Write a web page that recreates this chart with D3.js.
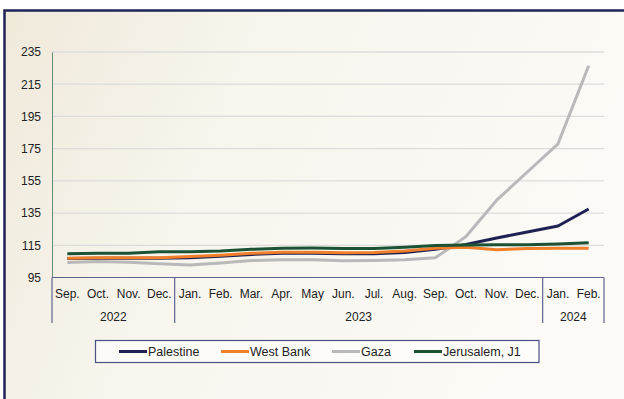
<!DOCTYPE html>
<html>
<head>
<meta charset="utf-8">
<script src="https://cdn.jsdelivr.net/npm/d3@7/dist/d3.min.js"></script>
<style>
  html, body { margin: 0; padding: 0; background: #fff; }
  #chart { width: 624px; height: 399px; }
  text { font-family: Arial, "Liberation Sans", sans-serif; fill: #222; }
</style>
</head>
<body>
<div id="chart"></div>
<script>
const months = ['Sep.', 'Oct.', 'Nov.', 'Dec.', 'Jan.', 'Feb.', 'Mar.', 'Apr.', 'May', 'Jun.',
    'Jul.', 'Aug.', 'Sep.', 'Oct.', 'Nov.', 'Dec.', 'Jan.', 'Feb.'];
const years = [
    { label: '2022', count: 4 },
    { label: '2023', count: 12 },
    { label: '2024', count: 2 }
];
const yTicks = [95, 115, 135, 155, 175, 195, 215, 235];

const palestine = [106.8, 106.9, 107.0, 107.0, 107.3, 108.2, 109.3, 110.0, 110.0, 109.7,
    109.8, 110.5, 112.5, 115.5, 119.5, 123.3, 127.0, 137.5];
const westBank = [107.0, 107.2, 107.2, 107.3, 108.0, 108.8, 110.0, 110.6, 110.6, 110.3,
    110.5, 111.5, 113.2, 113.8, 112.2, 113.0, 113.2, 113.1];
const gaza = [104.3, 105.0, 104.5, 103.6, 102.8, 104.0, 105.5, 106.0, 106.0, 105.4,
    105.6, 106.0, 107.2, 120.5, 143.0, 160.5, 178.0, 226.5];
const jerusalem = [109.7, 110.0, 110.0, 111.0, 111.0, 111.5, 112.5, 113.2, 113.3, 113.0,
    113.0, 113.8, 114.8, 115.2, 115.3, 115.4, 115.8, 116.6];

const series = [
    { name: 'Palestine', color: '#1f2155', values: palestine },
    { name: 'West Bank', color: '#f07f2c', values: westBank },
    { name: 'Gaza', color: '#b9b9b9', values: gaza },
    { name: 'Jerusalem, J1', color: '#1b5234', values: jerusalem }
];

const W = 624, H = 399;
const plot = { left: 52, right: 604, top: 52, bottom: 277.5 };

const svg = d3.select('#chart').append('svg')
    .attr('width', W)
    .attr('height', H);

// background + frame
const defs = svg.append('defs');
const grad = defs.append('linearGradient')
    .attr('id', 'bg')
    .attr('x1', 0).attr('y1', 0).attr('x2', 1).attr('y2', 0.3);
grad.append('stop').attr('offset', '0%').attr('stop-color', '#efe9da');
grad.append('stop').attr('offset', '35%').attr('stop-color', '#f7f5ed');
grad.append('stop').attr('offset', '100%').attr('stop-color', '#fcfbf8');

svg.append('rect')
    .attr('x', 4.5).attr('y', 10.5)
    .attr('width', 700).attr('height', 500)
    .attr('fill', 'url(#bg)')
    .attr('stroke', '#1f2358')
    .attr('stroke-width', 2.5);

const x = d3.scaleBand()
    .domain(d3.range(months.length))
    .range([plot.left, plot.right]);

const y = d3.scaleLinear()
    .domain([95, 235])
    .range([plot.bottom, plot.top]);

// gridlines
svg.append('g')
    .selectAll('line')
    .data(yTicks.slice(1))
    .enter()
    .append('line')
    .attr('x1', plot.left)
    .attr('x2', plot.right)
    .attr('y1', d => y(d))
    .attr('y2', d => y(d))
    .attr('stroke', '#dcdcdc')
    .attr('stroke-width', 1.3);

// y axis
const yAxis = svg.append('g')
    .attr('transform', `translate(${plot.left},0)`)
    .call(d3.axisLeft(y).tickValues(yTicks).tickSize(0).tickPadding(11));
yAxis.select('.domain').attr('stroke', '#5e8f72').attr('stroke-width', 1);
yAxis.selectAll('text')
    .style('font-size', '12px')
    .style('font-family', 'Arial, "Liberation Sans", sans-serif')
    .attr('fill', '#222');

// category axis
const catColor = '#5f6391';
svg.append('line')
    .attr('x1', plot.left).attr('x2', plot.right)
    .attr('y1', plot.bottom).attr('y2', plot.bottom)
    .attr('stroke', catColor)
    .attr('stroke-width', 1.2);

svg.append('g')
    .selectAll('text')
    .data(months)
    .enter()
    .append('text')
    .attr('x', (d, i) => x(i) + x.bandwidth() / 2)
    .attr('y', 297.5)
    .attr('text-anchor', 'middle')
    .style('font-size', '12px')
    .text(d => d);

let start = 0;
const yearPos = years.map(yr => {
    const s = start;
    start += yr.count;
    return { label: yr.label, s, e: start };
});

svg.append('g')
    .selectAll('line')
    .data([0].concat(yearPos.map(d => d.e)))
    .enter()
    .append('line')
    .attr('x1', d => d < months.length ? x(d) : plot.right)
    .attr('x2', d => d < months.length ? x(d) : plot.right)
    .attr('y1', plot.bottom)
    .attr('y2', 323)
    .attr('stroke', catColor)
    .attr('stroke-width', 1.2);

svg.append('g')
    .selectAll('text')
    .data(yearPos)
    .enter()
    .append('text')
    .attr('x', d => (x(d.s) + (d.e < months.length ? x(d.e) : plot.right)) / 2)
    .attr('y', 321)
    .attr('text-anchor', 'middle')
    .style('font-size', '12px')
    .text(d => d.label);

// lines
const line = d3.line()
    .x((d, i) => x(i) + x.bandwidth() / 2)
    .y(d => y(d));

const drawOrder = [series[2], series[0], series[1], series[3]];
svg.append('g')
    .selectAll('path')
    .data(drawOrder)
    .enter()
    .append('path')
    .attr('fill', 'none')
    .attr('stroke', d => d.color)
    .attr('stroke-width', 3)
    .attr('stroke-linejoin', 'round')
    .attr('d', d => line(d.values));

// legend
const legend = svg.append('g');
legend.append('rect')
    .attr('x', 95.5).attr('y', 340.5)
    .attr('width', 443.5).attr('height', 22)
    .attr('fill', 'rgba(255,255,255,0.55)')
    .attr('stroke', '#4b4f82')
    .attr('stroke-width', 1.2);

const legendX = [119, 221, 332, 414];
const item = legend.selectAll('g')
    .data(series)
    .enter()
    .append('g')
    .attr('transform', (d, i) => `translate(${legendX[i]},351.5)`);

item.append('line')
    .attr('x1', 0).attr('x2', 28)
    .attr('stroke', d => d.color)
    .attr('stroke-width', 3);

item.append('text')
    .attr('x', 29)
    .attr('dy', '0.35em')
    .style('font-size', '12.5px')
    .text(d => d.name);
</script>
</body>
</html>
